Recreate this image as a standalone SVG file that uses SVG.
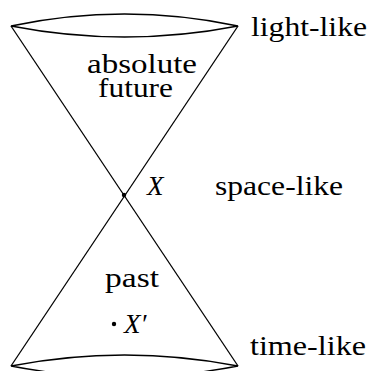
<svg xmlns="http://www.w3.org/2000/svg" width="370" height="371" viewBox="0 0 370 371">
<style>
.ln{fill:none;stroke:#000;stroke-width:1.3}
text{font-family:'Liberation Serif','Times New Roman',serif;font-size:27px;fill:#000}
.i{font-style:italic}
</style>
<rect width="370" height="371" fill="#fff"/>
<g id="cone">
<path class="ln" d="M11,26 Q124.5,2 238,26 Q124.5,48 11,26 Z"/>
<path class="ln" d="M11,366 Q124.5,344 238,366 Q124.5,388 11,366 Z"/>
<line class="ln" x1="11" y1="26" x2="238" y2="366"/>
<line class="ln" x1="238" y1="26" x2="11" y2="366"/>
</g>
<g id="point-X">
<circle cx="124" cy="195" r="2.2" fill="#000"/>
<text class="i" x="147" y="195">X</text>
</g>
<g id="point-Xp">
<circle cx="114" cy="324" r="2.2" fill="#000"/>
<text class="i" x="124" y="333">X′</text>
</g>
<g id="label-future">
<text text-anchor="middle"><tspan x="142" y="73" textLength="110" lengthAdjust="spacingAndGlyphs">absolute</tspan><tspan x="135.5" y="97" textLength="75" lengthAdjust="spacingAndGlyphs">future</tspan></text>
</g>
<g id="label-past">
<text x="132" y="287" text-anchor="middle" textLength="54" lengthAdjust="spacingAndGlyphs">past</text>
</g>
<g id="label-light">
<text x="251" y="36" textLength="116" lengthAdjust="spacingAndGlyphs">light-like</text>
</g>
<g id="label-space">
<text x="215" y="195" textLength="128" lengthAdjust="spacingAndGlyphs">space-like</text>
</g>
<g id="label-time">
<text x="250" y="355" textLength="116" lengthAdjust="spacingAndGlyphs">time-like</text>
</g>
</svg>
